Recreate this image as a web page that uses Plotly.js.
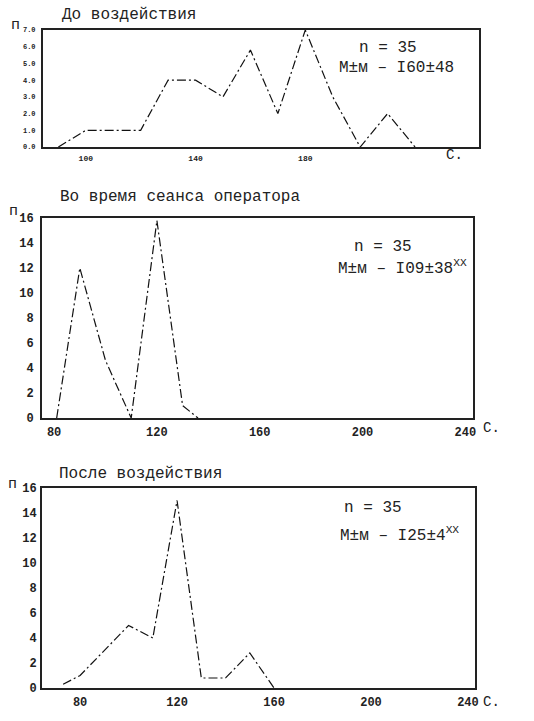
<!DOCTYPE html>
<html>
<head>
<meta charset="utf-8">
<script src="https://cdn.plot.ly/plotly-3.0.1.min.js"></script>
<style>body{margin:0;background:#fff}</style>
</head>
<body>
<div id="chart" style="width:534px;height:721px"></div>
<script>
// До воздействия
var before_x = [90, 100, 110, 120, 130, 140, 150, 160, 170, 180, 190, 200, 210, 220];
var before_y = [0, 1, 1, 1, 4, 4, 3, 5.8, 2, 7, 3, 0, 2, 0];
// Во время сеанса оператора
var during_x = [81, 90, 100, 110, 120, 130, 136];
var during_y = [0, 12, 4.6, 0, 15.8, 1, 0];
// После воздействия
var after_x = [73, 80, 100, 110, 120, 130, 140, 150, 160];
var after_y = [0.3, 1, 5, 4, 15, 0.8, 0.8, 2.8, 0];

var ticks1_y = [0, 1, 2, 3, 4, 5, 6, 7];
var ticks1_ytext = ['0.0', '1.0', '2.0', '3.0', '4.0', '5.0', '6.0', '7.0'];
var ticks1_x = [100, 140, 180];
var ticks_y = [0, 2, 4, 6, 8, 10, 12, 14, 16];
var ticks_x = [80, 120, 160, 200, 240];

var titles = ['До воздействия', 'Во время сеанса оператора', 'После воздействия'];
var stats = ['M±м – I60±48', 'M±м – I09±38<sup>XX</sup>', 'M±м – I25±4<sup>XX</sup>'];

var mono = 'Liberation Mono, DejaVu Sans Mono, monospace';
var lineStyle = {color: '#111', width: 1.2, dash: '9px,3px,2px,3px'};

var data = [
  {x: before_x, y: before_y, type: 'scatter', mode: 'lines', line: lineStyle, xaxis: 'x', yaxis: 'y'},
  {x: during_x, y: during_y, type: 'scatter', mode: 'lines', line: lineStyle, xaxis: 'x2', yaxis: 'y2'},
  {x: after_x, y: after_y, type: 'scatter', mode: 'lines', line: lineStyle, xaxis: 'x3', yaxis: 'y3'}
];

function xax(domain, range, vals, anchor, size) {
  return {
    domain: domain, range: range, anchor: anchor,
    tickvals: vals, ticktext: vals.map(String),
    showgrid: false, zeroline: false, ticks: '',
    showline: true, mirror: true, linecolor: '#222', linewidth: 2,
    tickfont: {family: mono, size: size, color: '#222', weight: 'bold'},
    ticklabelstandoff: 2
  };
}
function yax(domain, range, vals, text, anchor, size, gap) {
  return {
    domain: domain, range: range, anchor: anchor,
    tickvals: vals, ticktext: text,
    showgrid: false, zeroline: false, ticks: '',
    showline: true, mirror: true, linecolor: '#222', linewidth: 2,
    tickfont: {family: mono, size: size, color: '#222', weight: 'bold'},
    ticklabelstandoff: gap
  };
}

var ann = [];
function txt(x, y, s, size, xa) {
  ann.push({xref: 'paper', yref: 'paper', x: x, y: y, text: s, showarrow: false,
    xanchor: xa || 'center', yanchor: 'middle', font: {family: mono, size: size, color: '#222'}});
}
txt(0.1124, 0.979, titles[0], 16, 'left');
txt(0.1086, 0.7268, titles[1], 16, 'left');
txt(0.1067, 0.3426, titles[2], 16, 'left');
txt(0.0281, 0.9653, 'п', 15);
txt(0.0262, 0.706, 'п', 15);
txt(0.0225, 0.3287, 'п', 15);
txt(0.852, 0.785, 'C.', 14);
txt(0.9213, 0.4064, 'C.', 14);
txt(0.9213, 0.0264, 'C.', 14);
txt(0.7266, 0.9334, 'n = 35', 16);
txt(0.7434, 0.9057, stats[0], 16);
txt(0.7172, 0.6574, 'n = 35', 16);
txt(0.7546, 0.6283, stats[1], 16);
txt(0.6985, 0.2954, 'n = 35', 16);
txt(0.7472, 0.2580, stats[2], 16);

var layout = {
  width: 534, height: 721,
  margin: {l: 0, r: 0, t: 0, b: 0},
  paper_bgcolor: '#fff', plot_bgcolor: '#fff',
  showlegend: false,
  font: {family: mono, color: '#222'},
  xaxis: xax([0.0805, 0.897], [84.4, 243.3], ticks1_x, 'y', 8),
  yaxis: yax([0.7961, 0.9584], [0, 7], ticks1_y, ticks1_ytext, 'x', 7, 4),
  xaxis2: xax([0.0787, 0.8858], [75.3, 243], ticks_x, 'y2', 12),
  yaxis2: yax([0.4202, 0.6976], [0, 16], ticks_y, ticks_y.map(String), 'x2', 12, 4),
  xaxis3: xax([0.0787, 0.8895], [64.3, 242.9], ticks_x, 'y3', 12),
  yaxis3: yax([0.0458, 0.3232], [0, 16], ticks_y, ticks_y.map(String), 'x3', 12, 1),
  annotations: ann
};

Plotly.newPlot('chart', data, layout, {displayModeBar: false, staticPlot: true});
</script>
</body>
</html>
